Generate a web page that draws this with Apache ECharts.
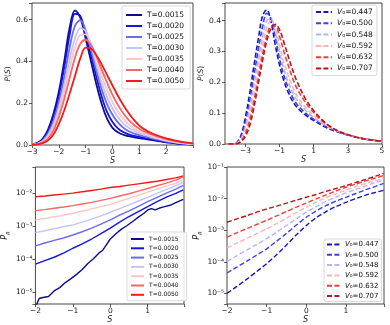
<!DOCTYPE html>
<html><head><meta charset="utf-8">
<script src="https://cdn.jsdelivr.net/npm/echarts@6/dist/echarts.min.js"></script>
<style>html,body{margin:0;padding:0;background:#fff}#c{width:390px;height:325px}</style>
</head><body><div id="c"></div>
<script>
// ---------- data ----------
const tNames = ['T=0.0015','T=0.0020','T=0.0025','T=0.0030','T=0.0035','T=0.0040','T=0.0050'];
const vNames = ['V₀=0.447','V₀=0.500','V₀=0.548','V₀=0.592','V₀=0.632','V₀=0.707'];

// top-left: P(S) vs S
const S1 = [-3.0,-2.8,-2.6,-2.4,-2.2,-2.0,-1.8,-1.6,-1.4,-1.2,-1.0,-0.8,-0.6,-0.4,-0.2,0.0,0.2,0.4,0.6,0.8,1.0,1.2,1.4,1.6,1.8,2.0,2.2,2.4,2.6,2.8,3.0];
const pT0015 = [0.003,0.010,0.030,0.075,0.150,0.255,0.400,0.560,0.645,0.610,0.510,0.400,0.290,0.195,0.125,0.082,0.061,0.049,0.042,0.037,0.033,0.029,0.025,0.021,0.017,0.013,0.010,0.007,0.005,0.003,0.002];
const pT0020 = [0.002,0.008,0.026,0.066,0.135,0.235,0.370,0.525,0.628,0.618,0.530,0.430,0.325,0.230,0.157,0.110,0.080,0.062,0.051,0.044,0.039,0.034,0.029,0.024,0.019,0.015,0.011,0.008,0.006,0.004,0.003];
const pT0025 = [0.002,0.007,0.022,0.056,0.116,0.205,0.325,0.465,0.570,0.598,0.548,0.455,0.355,0.265,0.195,0.145,0.108,0.083,0.066,0.055,0.047,0.040,0.034,0.028,0.023,0.018,0.014,0.010,0.007,0.005,0.004];
const pT0030 = [0.002,0.006,0.018,0.047,0.099,0.180,0.285,0.408,0.510,0.560,0.545,0.478,0.385,0.297,0.228,0.175,0.134,0.104,0.083,0.068,0.057,0.048,0.040,0.033,0.027,0.021,0.016,0.012,0.009,0.006,0.004];
const pT0035 = [0.001,0.005,0.015,0.040,0.086,0.160,0.255,0.368,0.468,0.527,0.530,0.485,0.410,0.330,0.262,0.205,0.160,0.125,0.099,0.080,0.066,0.055,0.046,0.038,0.031,0.024,0.019,0.014,0.010,0.007,0.005];
const pT0040 = [0.001,0.004,0.012,0.031,0.070,0.135,0.220,0.320,0.418,0.485,0.504,0.478,0.425,0.360,0.298,0.240,0.192,0.152,0.120,0.096,0.078,0.064,0.053,0.044,0.036,0.028,0.022,0.017,0.013,0.009,0.007];
const pT0050 = [0.001,0.003,0.009,0.022,0.050,0.100,0.165,0.245,0.330,0.415,0.466,0.462,0.430,0.385,0.335,0.285,0.236,0.192,0.153,0.120,0.093,0.074,0.060,0.049,0.040,0.032,0.026,0.020,0.015,0.011,0.008];

// top-right: P(S) vs S for V0
const S2 = [-4,-3.75,-3.5,-3.25,-3,-2.75,-2.5,-2.25,-2,-1.75,-1.5,-1.25,-1,-0.75,-0.5,-0.25,0,0.5,1,1.5,2,2.5,3,3.5,4,4.5,5];
const pV0447 = [0,0,0.005,0.030,0.088,0.165,0.255,0.340,0.415,0.435,0.395,0.320,0.255,0.205,0.168,0.140,0.120,0.094,0.076,0.060,0.047,0.037,0.029,0.022,0.016,0.012,0.009];
const pV0500 = [0,0,0.004,0.024,0.072,0.140,0.222,0.305,0.380,0.424,0.405,0.345,0.275,0.222,0.183,0.153,0.130,0.101,0.080,0.063,0.049,0.038,0.030,0.022,0.016,0.012,0.009];
const pV0548 = [0,0,0.003,0.018,0.058,0.118,0.192,0.272,0.348,0.400,0.405,0.362,0.298,0.243,0.202,0.170,0.144,0.110,0.086,0.067,0.051,0.039,0.030,0.022,0.016,0.012,0.009];
const pV0592 = [0,0,0.002,0.014,0.045,0.097,0.165,0.242,0.318,0.378,0.400,0.375,0.320,0.265,0.222,0.187,0.158,0.120,0.092,0.070,0.053,0.040,0.030,0.022,0.016,0.012,0.009];
const pV0632 = [0,0,0.001,0.010,0.034,0.078,0.140,0.214,0.290,0.350,0.382,0.383,0.348,0.300,0.256,0.216,0.182,0.136,0.102,0.075,0.055,0.041,0.030,0.022,0.016,0.012,0.009];
const pV0707 = [0,0,0.001,0.008,0.025,0.060,0.120,0.195,0.270,0.335,0.375,0.388,0.370,0.330,0.285,0.242,0.205,0.148,0.108,0.078,0.055,0.040,0.030,0.022,0.016,0.012,0.009];

// bottom-left: P_R vs S (log)
const S3 = [-2,-1.75,-1.5,-1.25,-1,-0.75,-0.5,-0.25,0,0.25,0.5,0.75,1,1.25,1.5,1.75,1.95];
const S3n = [-2.0,-1.9,-1.8,-1.65,-1.5,-1.35,-1.2,-1.05,-0.9,-0.75,-0.6,-0.45,-0.3,-0.2,-0.1,0.0,0.15,0.3,0.45,0.6,0.75,0.9,1.0,1.1,1.2,1.3,1.45,1.6,1.75,1.95];
const rT0015 = [3.5e-6,6.6e-6,7.1e-6,7.6e-6,1.12e-5,1.41e-5,2.0e-5,2.63e-5,3.55e-5,5.0e-5,7.6e-5,1.05e-4,1.58e-4,1.91e-4,2.82e-4,4.17e-4,6.0e-4,8.3e-4,1.07e-3,1.41e-3,1.91e-3,2.51e-3,3.16e-3,3.47e-3,3.16e-3,3.55e-3,3.98e-3,4.37e-3,5.25e-3,6.6e-3];
const rT0020 = [7.2e-5,9.3e-5,1.17e-4,1.55e-4,2.19e-4,2.95e-4,4.17e-4,6.03e-4,8.91e-4,1.35e-3,2.00e-3,2.82e-3,3.98e-3,5.62e-3,7.76e-3,0.0100,0.0129];
const rT0025 = [2.57e-4,3.16e-4,3.80e-4,4.47e-4,5.50e-4,6.92e-4,8.91e-4,1.17e-3,1.58e-3,2.19e-3,2.95e-3,4.07e-3,5.62e-3,7.59e-3,0.0102,0.0135,0.0174];
const rT0030 = [6.5e-4,7.4e-4,8.5e-4,9.8e-4,1.12e-3,1.35e-3,1.66e-3,2.09e-3,2.69e-3,3.47e-3,4.47e-3,5.89e-3,7.59e-3,0.0100,0.0132,0.0170,0.0219];
const rT0035 = [1.58e-3,1.74e-3,1.95e-3,2.19e-3,2.51e-3,2.88e-3,3.39e-3,3.98e-3,4.68e-3,5.75e-3,7.08e-3,8.71e-3,0.0110,0.0135,0.0166,0.0204,0.0257];
const rT0040 = [3.02e-3,3.24e-3,3.55e-3,3.89e-3,4.27e-3,4.79e-3,5.37e-3,6.17e-3,7.08e-3,8.32e-3,9.77e-3,0.0117,0.0141,0.0170,0.0204,0.0251,0.0316];
const rT0050 = [7.94e-3,8.32e-3,8.91e-3,9.55e-3,0.0102,0.0112,0.0123,0.0135,0.0151,0.0162,0.0178,0.0195,0.0214,0.0234,0.0263,0.0295,0.0339];

// bottom-right: P_R vs S (log), V0
const S4 = [-2,-1.75,-1.5,-1.25,-1,-0.75,-0.5,-0.25,0,0.25,0.5,0.75,1,1.25,1.5,1.75,1.95];
const rV0447 = [1.0e-5,1.66e-5,2.82e-5,4.9e-5,8.7e-5,1.66e-4,3.39e-4,7.1e-4,1.41e-3,2.51e-3,3.89e-3,5.62e-3,7.6e-3,0.0100,0.0129,0.0158,0.0182];
const rV0500 = [4.4e-5,6.8e-5,1.05e-4,1.62e-4,2.57e-4,4.47e-4,7.9e-4,1.45e-3,2.57e-3,4.07e-3,6.0e-3,8.3e-3,0.0110,0.0145,0.0191,0.0245,0.0302];
const rV0548 = [1.02e-4,1.55e-4,2.34e-4,3.55e-4,5.4e-4,8.7e-4,1.41e-3,2.29e-3,3.72e-3,5.62e-3,8.1e-3,0.0112,0.0151,0.0195,0.0251,0.0324,0.0389];
const rV0592 = [2.75e-4,3.89e-4,5.5e-4,7.8e-4,1.10e-3,1.62e-3,2.40e-3,3.63e-3,5.37e-3,7.8e-3,0.0107,0.0141,0.0186,0.0240,0.0302,0.0372,0.0437];
const rV0632 = [6.0e-4,8.3e-4,1.12e-3,1.51e-3,2.04e-3,2.82e-3,3.89e-3,5.37e-3,7.2e-3,9.8e-3,0.0132,0.0174,0.0229,0.0288,0.0363,0.0447,0.0537];
const rV0707 = [1.78e-3,2.29e-3,2.88e-3,3.72e-3,4.68e-3,5.75e-3,7.2e-3,8.9e-3,0.0110,0.0135,0.0170,0.0209,0.0257,0.0324,0.0407,0.0513,0.0631];

const xTicks2 = [-3,-1,1,3,5];

// ---------- styling ----------
const FF = 'DejaVu Sans';
const cT = ['#0c0c8f','#1414e6','#6a6af4','#c4c4fb','#fcc6c6','#f86666','#f41a1a'];
const cV = ['#1717b8','#3d3df2','#b4b4fa','#fab4b4','#f23e3e','#b81717'];
const AX = '#333';

const pair = (x, y) => x.map((v, i) => [v, y[i]]);
const minus = v => (v < 0 ? '−' : '') + Math.abs(v);
const supMap = {'-':'⁻','0':'⁰','1':'¹','2':'²','3':'³','4':'⁴','5':'⁵','6':'⁶','7':'⁷','8':'⁸','9':'⁹'};
const logFmt = v => {
  const e = Math.log10(v);
  if (Math.abs(e - Math.round(e)) > 1e-6) return '';
  return '10' + String(Math.round(e)).split('').map(c => supMap[c]).join('');
};
const stepFmt = (step, dec) => v => {
  const k = v / step;
  return Math.abs(k - Math.round(k)) < 1e-6 ? v.toFixed(dec) : '';
};
const intFmt = hide => v => (Math.abs(v - Math.round(v)) < 1e-6 && !(hide || []).includes(v)) ? minus(v) : '';

const labelStyle = {fontFamily: FF, fontSize: 7.5, color: '#222'};
const tickStyle = {show: true, inside: false, length: 3, lineStyle: {color: AX, width: 0.8}};
function xAxisCfg(grid, extra) {
  return Object.assign({
    gridIndex: grid, type: 'value',
    axisLine: {show: false, onZero: false},
    axisTick: tickStyle,
    axisLabel: Object.assign({margin: 3}, labelStyle),
    splitLine: {show: false},
    name: 'S', nameLocation: 'middle', nameGap: 10,
    nameTextStyle: {fontFamily: FF, fontSize: 8, fontStyle: 'italic', color: '#222'}
  }, extra);
}
const richPS = {fontFamily: FF, fontSize: 7.5, color: '#222', rich: {i: {fontFamily: FF, fontSize: 7.5, fontStyle: 'italic', color: '#222'}}};
const richPR = {fontFamily: FF, fontSize: 7.5, color: '#222', rich: {
  p: {fontFamily: FF, fontSize: 8, fontStyle: 'italic', color: '#222', lineHeight: 10, verticalAlign: 'top'},
  r: {fontFamily: FF, fontSize: 5.5, fontStyle: 'italic', color: '#222', lineHeight: 6, padding: [5, 0, 0, 0], verticalAlign: 'top'}
}};
function yAxisCfg(grid, extra) {
  return Object.assign({
    gridIndex: grid,
    axisLine: {show: false, onZero: false},
    axisTick: tickStyle,
    axisLabel: Object.assign({margin: 4}, labelStyle),
    splitLine: {show: false},
    nameLocation: 'middle'
  }, extra);
}

const series = [];
const tP = [pT0015, pT0020, pT0025, pT0030, pT0035, pT0040, pT0050];
tP.forEach((y, i) => series.push({name: tNames[i], type: 'line', xAxisIndex: 0, yAxisIndex: 0,
  data: pair(S1, y), symbol: 'none', smooth: 0.35, lineStyle: {color: cT[i], width: 1.8}, itemStyle: {color: cT[i]}}));
const vP = [pV0447, pV0500, pV0548, pV0592, pV0632, pV0707];
vP.forEach((y, i) => series.push({name: vNames[i], type: 'line', xAxisIndex: 1, yAxisIndex: 1,
  data: pair(S2, y), symbol: 'none', smooth: 0.35, lineStyle: {color: cV[i], width: 1.6, type: [5, 2.4]}, itemStyle: {color: cV[i]}}));
const tR = [rT0015, rT0020, rT0025, rT0030, rT0035, rT0040, rT0050];
tR.forEach((y, i) => series.push({name: tNames[i], type: 'line', xAxisIndex: 2, yAxisIndex: 2,
  data: pair(i === 0 ? S3n : S3, y), symbol: 'none', lineStyle: {color: cT[i], width: 1.4}, itemStyle: {color: cT[i]}}));
const vR = [rV0447, rV0500, rV0548, rV0592, rV0632, rV0707];
vR.forEach((y, i) => series.push({name: vNames[i], type: 'line', xAxisIndex: 3, yAxisIndex: 3,
  data: pair(S4, y), symbol: 'none', smooth: 0.2, lineStyle: {color: cV[i], width: 1.4, type: [5, 2.4]}, itemStyle: {color: cV[i]}}));

const legendBase = {orient: 'vertical', selectedMode: false, borderColor: '#cfcfcf', borderWidth: 0.8, borderRadius: 2,
  backgroundColor: 'rgba(255,255,255,0.85)', itemStyle: {opacity: 0}};
const vRich = fs => ({fontFamily: FF, fontSize: fs, color: '#111', rich: {v: {fontFamily: FF, fontSize: fs, fontStyle: 'italic', color: '#111'}}});

const option = {
  animation: false,
  backgroundColor: '#fff',
  grid: [
    {left: 32, top: 3, width: 161, height: 142, show: true, borderColor: AX, borderWidth: 0.9, backgroundColor: 'transparent'},
    {left: 225, top: 3, width: 157, height: 141, show: true, borderColor: AX, borderWidth: 0.9, backgroundColor: 'transparent'},
    {left: 33, top: 167, width: 151, height: 137, show: true, borderColor: AX, borderWidth: 0.9, backgroundColor: 'transparent'},
    {left: 227, top: 167, width: 157, height: 137, show: true, borderColor: AX, borderWidth: 0.9, backgroundColor: 'transparent'}
  ],
  xAxis: [
    xAxisCfg(0, {min: -3, max: 3, interval: 1, axisLabel: Object.assign({margin: 3, formatter: intFmt([3])}, labelStyle)}),
    xAxisCfg(1, {min: -4.2, max: 5,
      axisLabel: Object.assign({margin: 3, customValues: xTicks2, formatter: v => minus(v)}, labelStyle),
      axisTick: Object.assign({customValues: xTicks2}, tickStyle)}),
    xAxisCfg(2, {min: -2, max: 1.97, interval: 1, axisLabel: Object.assign({margin: 3, formatter: intFmt([])}, labelStyle)}),
    xAxisCfg(3, {min: -2, max: 1.96, interval: 1, axisLabel: Object.assign({margin: 3, formatter: intFmt([])}, labelStyle)})
  ],
  yAxis: [
    yAxisCfg(0, {type: 'value', min: 0, max: 0.68, interval: 0.2,
      axisLabel: Object.assign({margin: 4, formatter: stepFmt(0.2, 1)}, labelStyle),
      name: '{i|P}({i|S})', nameGap: 19, nameTextStyle: richPS}),
    yAxisCfg(1, {type: 'value', min: 0, max: 0.457, interval: 0.1,
      axisLabel: Object.assign({margin: 4, formatter: stepFmt(0.1, 1)}, labelStyle),
      name: '{i|P}({i|S})', nameGap: 16, nameTextStyle: richPS}),
    yAxisCfg(2, {type: 'log', logBase: 10, min: 4.5e-6, max: 0.063,
      axisLabel: Object.assign({margin: 3, formatter: logFmt}, labelStyle),
      name: '{p|P}{r|R}', nameGap: 21, nameTextStyle: richPR}),
    yAxisCfg(3, {type: 'log', logBase: 10, min: 4.6e-6, max: 0.1,
      axisLabel: Object.assign({margin: 3, formatter: logFmt}, labelStyle),
      name: '{p|P}{r|R}', nameGap: 21, nameTextStyle: richPR})
  ],
  legend: [
    Object.assign({}, legendBase, {data: tNames, left: 122, top: 6, itemWidth: 16, itemHeight: 8, itemGap: 3,
      padding: [5, 6, 4, 3], textStyle: {fontFamily: FF, fontSize: 7.5, color: '#111'}}),
    Object.assign({}, legendBase, {data: vNames, left: 312, top: 5, itemWidth: 16, itemHeight: 8, itemGap: 3.3,
      padding: [3, 4, 3, 3], formatter: n => '{v|V}' + n.slice(1), textStyle: vRich(7.5)}),
    Object.assign({}, legendBase, {data: tNames, left: 127, top: 232, itemWidth: 13, itemHeight: 6, itemGap: 3.3,
      padding: [4, 8, 3, 3], textStyle: {fontFamily: FF, fontSize: 6, color: '#111'}}),
    Object.assign({}, legendBase, {data: vNames, left: 324, top: 239, itemWidth: 13, itemHeight: 7, itemGap: 3.3,
      padding: [2, 3, 2, 2], formatter: n => '{v|V}' + n.slice(1), textStyle: vRich(7)})
  ],
  series: series
};

const chart = echarts.init(document.getElementById('c'), null, {renderer: 'canvas', width: 390, height: 325});
chart.setOption(option);
</script>
</body></html>
